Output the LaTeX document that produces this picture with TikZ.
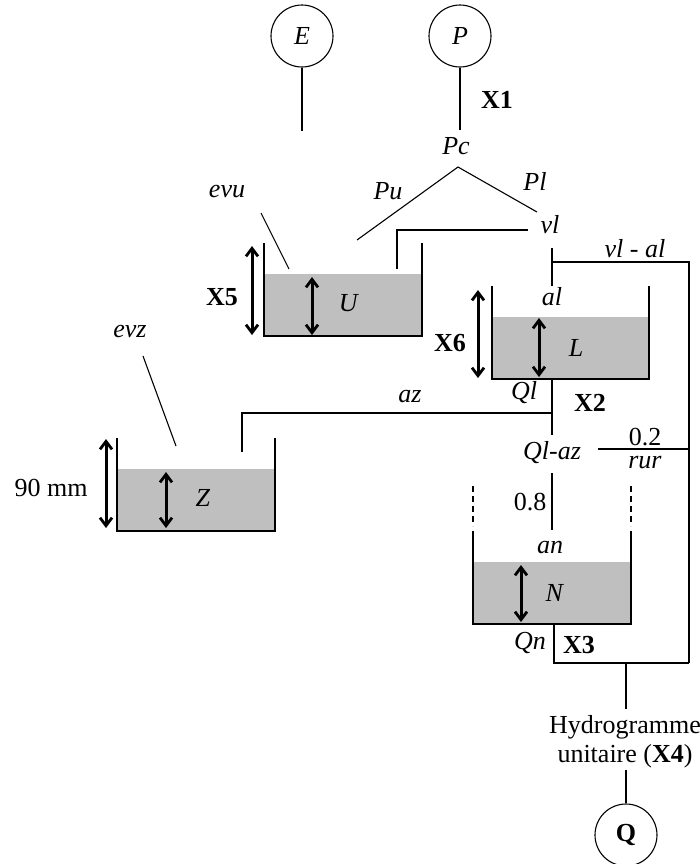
\documentclass[tikz,border=0pt]{standalone}
\usepackage{fontspec}
\setmainfont{Liberation Serif}
\usetikzlibrary{arrows.meta}
\begin{document}
\begin{tikzpicture}[x=0.5pt,y=-0.5pt,
  every node/.style={font=\fontsize{13}{15.5}\selectfont, inner sep=0pt},
  ln/.style={line width=0.55pt},
  dbl/.style={line width=1.5pt, {Straight Barb[length=4pt,width=6pt,line width=1.4pt]}-{Straight Barb[length=4pt,width=6pt,line width=1.4pt]}},
  water/.style={fill=black!25, draw=none},
  tankwall/.style={line width=0.7pt},
  dashwall/.style={line width=1pt, dash pattern=on 3pt off 2pt},
  src/.style={circle, draw, line width=0.55pt, minimum size=31pt, inner sep=0pt}]
\useasboundingbox (0,0) rectangle (700,864);

% sources
\node[src] (E) at (302,36) {\textit{E}};
\node[src] (P) at (460,36) {\textit{P}};
\coordinate (Eend) at (302,131);
\coordinate (Pend) at (460,130);
\draw[ln] (E) -- (Eend);
\draw[ln] (P) -- (Pend);
\node (X1) at (497,100) {\textbf{X1}};
\node (Pc) at (456,146) {\textit{Pc}};

% split
\coordinate (apex) at (458,167);
\coordinate (PuEnd) at (357,240);
\coordinate (PlEnd) at (537,212);
\draw[ln] (PuEnd) -- (apex) -- (PlEnd);
\node (Pu) at (388,191) {\textit{Pu}};
\node (Pl) at (535,181) {\textit{Pl}};
\node (vl) at (550,225) {\textit{vl}};

% U store
\fill[water] (264,274) rectangle (422,336);
\coordinate (Utl) at (264,243);
\coordinate (Ubl) at (264,336);
\coordinate (Ubr) at (422,336);
\coordinate (Utr) at (422,243);
\draw[tankwall] (Utl) -- (Ubl) -- (Ubr) -- (Utr);
\coordinate (vlU1) at (528,230);
\coordinate (vlU2) at (397,230);
\coordinate (vlU3) at (397,269);
\draw[ln] (vlU1) -- (vlU2) -- (vlU3);
\node (evu) at (227,192) {\textit{evu}};
\coordinate (evu1) at (261,213);
\coordinate (evu2) at (289,269);
\draw[ln] (evu1) -- (evu2);
\coordinate (X5t) at (252,246);
\coordinate (X5b) at (252,335);
\draw[dbl] (X5t) -- (X5b);
\node (X5) at (222,297) {\textbf{X5}};
\coordinate (Uat) at (312,277);
\coordinate (Uab) at (312,335);
\draw[dbl] (Uat) -- (Uab);
\node (U) at (349,303) {\textit{U}};

% vl - al branch
\coordinate (al1) at (552,248);
\coordinate (al2) at (552,286);
\coordinate (br1) at (552,262);
\coordinate (br2) at (689,262);
\coordinate (br3) at (689,663);
\draw[ln] (al1) -- (al2);
\draw[ln] (br1) -- (br2) -- (br3);
\node (vlal) at (635,249) {\textit{vl - al}};

% L store
\fill[water] (492,317) rectangle (649,379);
\coordinate (Ltl) at (492,286);
\coordinate (Lbl) at (492,379);
\coordinate (Lbr) at (649,379);
\coordinate (Ltr) at (649,286);
\draw[tankwall] (Ltl) -- (Lbl) -- (Lbr) -- (Ltr);
\node (al) at (552,297) {\textit{al}};
\coordinate (X6t) at (478,290);
\coordinate (X6b) at (478,378);
\draw[dbl] (X6t) -- (X6b);
\node (X6) at (450,343) {\textbf{X6}};
\coordinate (Lat) at (539,318);
\coordinate (Lab) at (539,377);
\draw[dbl] (Lat) -- (Lab);
\node (L) at (576,348) {\textit{L}};
\node (Ql) at (524,393) {\textit{Ql}};
\node (X2) at (590,403) {\textbf{X2}};

% Ql outlet and az
\coordinate (Ql1) at (552,379);
\coordinate (Ql2) at (552,435);
\draw[ln] (Ql1) -- (Ql2);
\coordinate (az1) at (552,413);
\coordinate (az2) at (242,413);
\coordinate (az3) at (242,452);
\draw[ln] (az1) -- (az2) -- (az3);
\node (az) at (410,397) {\textit{az}};
\node (Qlaz) at (552,453) {\textit{Ql-az}};
\node (v02) at (645,437) {0.2};
\coordinate (fr1) at (598,449);
\coordinate (fr2) at (689,449);
\draw[ln] (fr1) -- (fr2);
\node (rur) at (645,463) {\textit{rur}};
\coordinate (an1) at (552,473);
\coordinate (an2) at (552,530);
\draw[ln] (an1) -- (an2);
\node (v08) at (530,502) {0.8};

% N store
\fill[water] (473,562) rectangle (631,624);
\coordinate (Nd1) at (473,486);
\coordinate (Nd2) at (473,526);
\coordinate (Nd3) at (631,486);
\coordinate (Nd4) at (631,526);
\draw[dashwall] (Nd1) -- (Nd2);
\draw[dashwall] (Nd3) -- (Nd4);
\coordinate (Ntl) at (473,531);
\coordinate (Nbl) at (473,624);
\coordinate (Nbr) at (631,624);
\coordinate (Ntr) at (631,531);
\draw[tankwall] (Ntl) -- (Nbl) -- (Nbr) -- (Ntr);
\node (an) at (550,547) {\textit{an}};
\coordinate (Nat) at (521,565);
\coordinate (Nab) at (521,622);
\draw[dbl] (Nat) -- (Nab);
\node (N) at (555,593) {\textit{N}};
\node (Qn) at (530,643) {\textit{Qn}};
\node (X3) at (579,645) {\textbf{X3}};

% outlet to Q
\coordinate (Qn1) at (554,624);
\coordinate (Qn2) at (554,663);
\draw[ln] (Qn1) -- (Qn2) -- (br3);
\coordinate (j1) at (626,663);
\coordinate (j2) at (626,709);
\draw[ln] (j1) -- (j2);
\node[align=center] (HU) at (625,742) {Hydrogramme\\[-1pt]unitaire (\textbf{X4})};
\node[src] (Q) at (626,835) {\textbf{Q}};
\coordinate (q1) at (626,770);
\draw[ln] (q1) -- (Q);

% Z store
\fill[water] (117,469) rectangle (275,531);
\coordinate (Ztl) at (117,438);
\coordinate (Zbl) at (117,531);
\coordinate (Zbr) at (275,531);
\coordinate (Ztr) at (275,438);
\draw[tankwall] (Ztl) -- (Zbl) -- (Zbr) -- (Ztr);
\node (evz) at (130,331) {\textit{evz}};
\coordinate (evz1) at (143,356);
\coordinate (evz2) at (176,446);
\draw[ln] (evz1) -- (evz2);
\coordinate (Zmt) at (106,439);
\coordinate (Zmb) at (106,528);
\draw[dbl] (Zmt) -- (Zmb);
\node (mm) at (51,488) {90 mm};
\coordinate (Zat) at (166,472);
\coordinate (Zab) at (166,528);
\draw[dbl] (Zat) -- (Zab);
\node (Z) at (203,498) {\textit{Z}};
\end{tikzpicture}
\end{document}
